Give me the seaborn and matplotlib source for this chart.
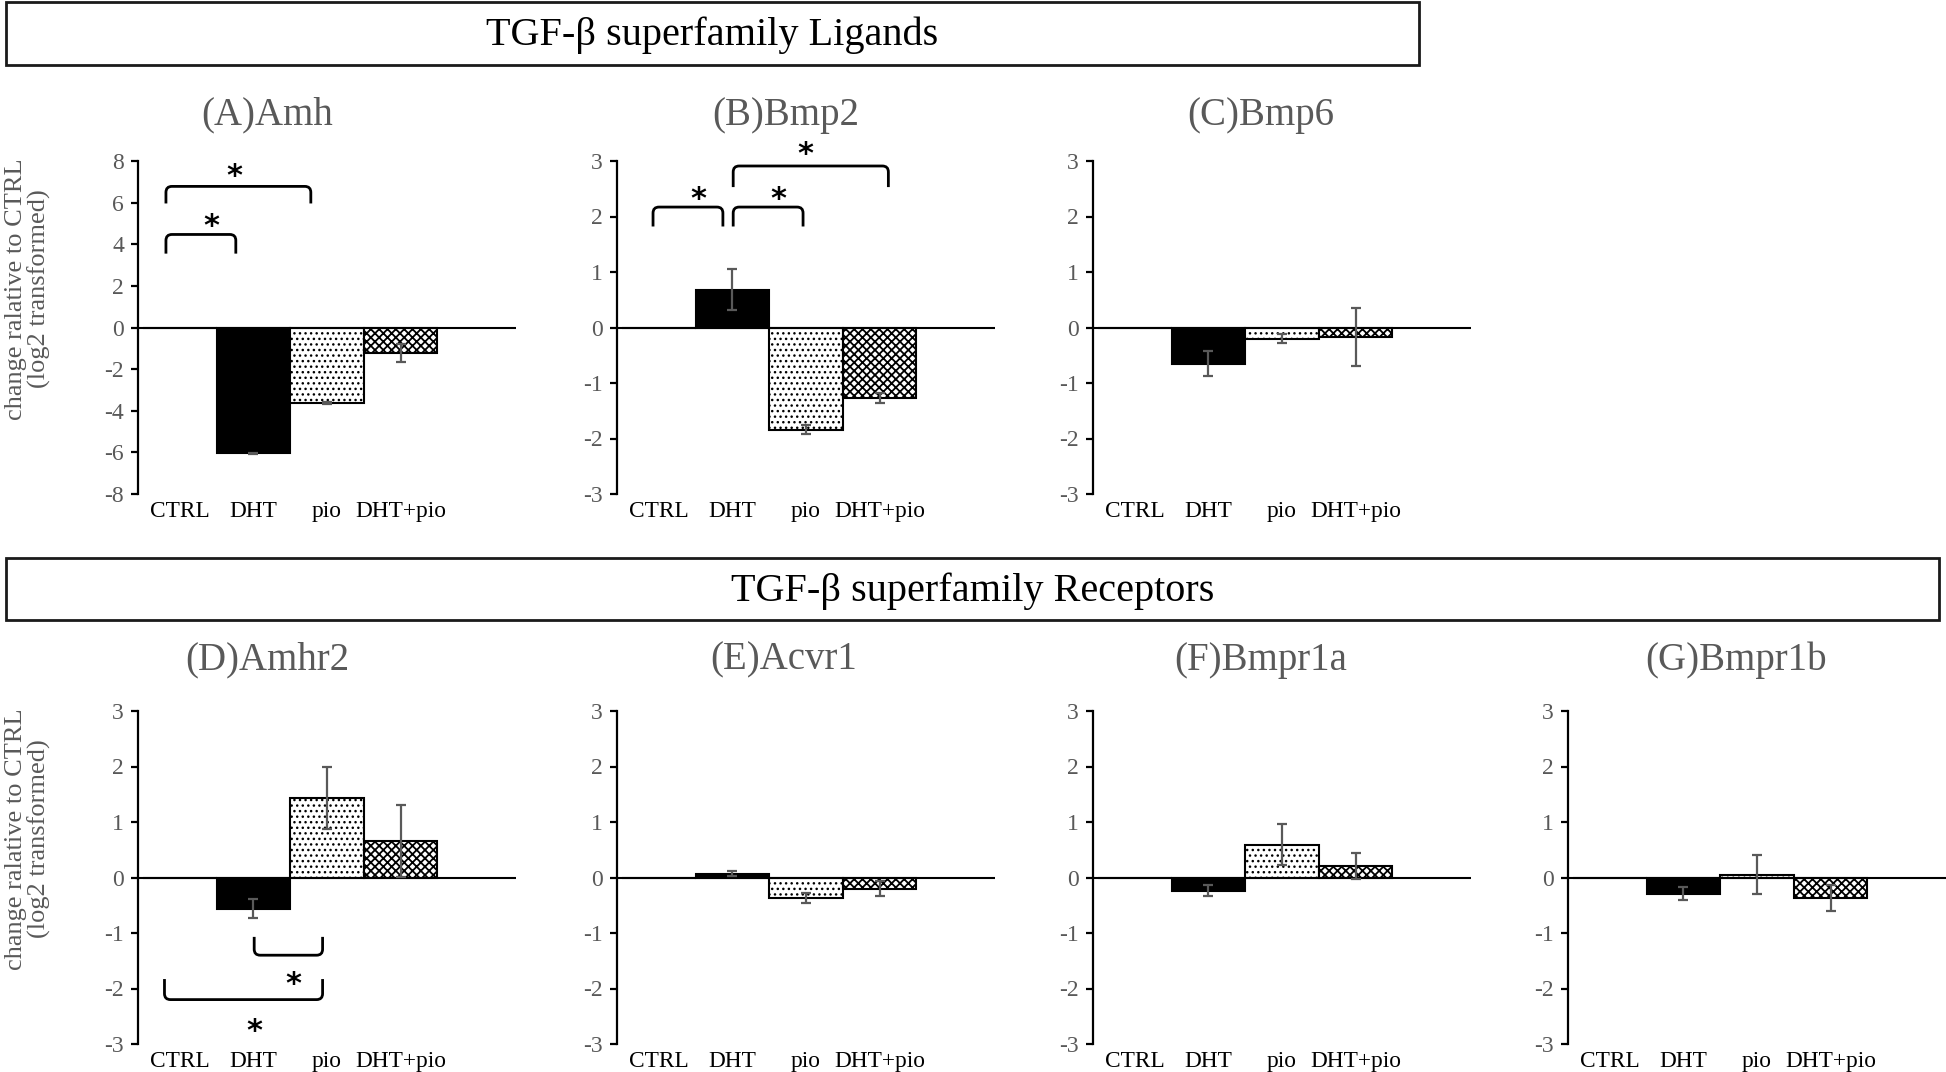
import numpy as np
import pandas as pd
import matplotlib
matplotlib.use("Agg")
import matplotlib.pyplot as plt
from matplotlib.patches import Rectangle, PathPatch
from matplotlib.path import Path
from matplotlib.ticker import FormatStrFormatter
import seaborn as sns

sns.set_style("white")
plt.rcParams['font.family'] = ['Liberation Serif', 'DejaVu Serif']
plt.rcParams['axes.unicode_minus'] = False
plt.rcParams['hatch.linewidth'] = 1.0

# ---------------- data ----------------
groups = ["CTRL", "DHT", "pio", "DHT+pio"]

amh_mean = [0, -6.05, -3.64, -1.22]
amh_err = [0, 0.04, 0.04, 0.43]
bmp2_mean = [0, 0.68, -1.84, -1.27]
bmp2_err = [0, 0.37, 0.08, 0.09]
bmp6_mean = [0, -0.65, -0.20, -0.17]
bmp6_err = [0, 0.22, 0.08, 0.52]
amhr2_mean = [0, -0.56, 1.44, 0.66]
amhr2_err = [0, 0.17, 0.56, 0.65]
acvr1_mean = [0, 0.07, -0.37, -0.20]
acvr1_err = [0, 0.05, 0.09, 0.13]
bmpr1a_mean = [0, -0.24, 0.59, 0.21]
bmpr1a_err = [0, 0.10, 0.37, 0.23]
bmpr1b_mean = [0, -0.29, 0.05, -0.37]
bmpr1b_err = [0, 0.11, 0.35, 0.23]

panel_titles = ["(A)Amh", "(B)Bmp2", "(C)Bmp6", "(D)Amhr2", "(E)Acvr1", "(F)Bmpr1a", "(G)Bmpr1b"]
banner_top = "TGF-\u03b2 superfamily Ligands"
banner_bottom = "TGF-\u03b2 superfamily Receptors"
ylabel_text = "change ralative to CTRL\n(log2 transformed)"

# significance brackets: (x_start, x_end, y_bar, y_leg_end, star_x, star_y)
sig_amh = [(-0.19, 1.78, 6.78, 5.96, 0.74, 7.45),
           (-0.19, 0.76, 4.47, 3.55, 0.43, 5.05)]
sig_bmp2 = [(-0.08, 0.87, 2.17, 1.82, 0.54, 2.38),
            (1.01, 1.96, 2.17, 1.82, 1.63, 2.38),
            (1.01, 3.12, 2.91, 2.53, 1.99, 3.19)]
sig_amhr2 = [(1.01, 1.94, -1.40, -1.07, 1.54, -1.86),
             (-0.21, 1.94, -2.20, -1.83, 1.01, -2.70)]

# ---------------- styling ----------------
GRAY = "#595959"
fills = {"CTRL": "white", "DHT": "black", "pio": "white", "DHT+pio": "white"}
hatches = ["", "", "...", "xxxx"]
hatch_lw = [1.0, 1.0, 1.0, 1.3]

W, H = 1946, 1072
fig = plt.figure(figsize=(W / 100, H / 100), dpi=100)

ax_w = 378 / W
ax_h = 333 / H
lefts = [138 / W, 617 / W, 1093 / W, 1568 / W]
bottom_top_row = 1 - 494 / H
bottom_bot_row = 1 - 1044 / H

panels = [
    (panel_titles[0], amh_mean, amh_err, (-8, 8), 2, lefts[0], bottom_top_row, True, 0.341, 1.138, sig_amh),
    (panel_titles[1], bmp2_mean, bmp2_err, (-3, 3), 1, lefts[1], bottom_top_row, False, 0.447, 1.138, sig_bmp2),
    (panel_titles[2], bmp6_mean, bmp6_err, (-3, 3), 1, lefts[2], bottom_top_row, False, 0.444, 1.138, []),
    (panel_titles[3], amhr2_mean, amhr2_err, (-3, 3), 1, lefts[0], bottom_bot_row, True, 0.341, 1.153, sig_amhr2),
    (panel_titles[4], acvr1_mean, acvr1_err, (-3, 3), 1, lefts[1], bottom_bot_row, False, 0.442, 1.153, []),
    (panel_titles[5], bmpr1a_mean, bmpr1a_err, (-3, 3), 1, lefts[2], bottom_bot_row, False, 0.444, 1.153, []),
    (panel_titles[6], bmpr1b_mean, bmpr1b_err, (-3, 3), 1, lefts[3], bottom_bot_row, False, 0.445, 1.153, []),
]


def bracket(ax, x0, x1, yb, yl, r_px=6):
    # pixel-per-unit of the data transform, to make round corners of r_px pixels
    p0 = ax.transData.transform((0, 0))
    p1 = ax.transData.transform((1, 1))
    rx = r_px / (p1[0] - p0[0])
    ry = r_px / abs(p1[1] - p0[1])
    s = np.sign(yb - yl)
    verts = [(x0, yl), (x0, yb - s * ry), (x0, yb), (x0 + rx, yb),
             (x1 - rx, yb), (x1, yb), (x1, yb - s * ry), (x1, yl)]
    codes = [Path.MOVETO, Path.LINETO, Path.CURVE3, Path.CURVE3,
             Path.LINETO, Path.CURVE3, Path.CURVE3, Path.LINETO]
    ax.add_patch(PathPatch(Path(verts, codes), fill=False, edgecolor="black",
                           lw=2.0, clip_on=False, zorder=6))


for title, mean, err, ylim, step, left, bottom, show_ylabel, tx, ty, sigs in panels:
    ax = fig.add_axes([left, bottom, ax_w, ax_h])
    df = pd.DataFrame({"group": groups, "value": mean})
    sns.barplot(data=df, x="group", y="value", hue="group", order=groups, hue_order=groups,
                palette=fills, width=1.0, edgecolor="black", linewidth=1.5,
                errorbar=None, legend=False, ax=ax)
    for patch, h, hl in zip(ax.patches, hatches, hatch_lw):
        patch.set_hatch(h)
        if hasattr(patch, "set_hatch_linewidth"):
            patch.set_hatch_linewidth(hl)

    xs = np.arange(len(groups))
    m = np.array(mean, dtype=float)
    e = np.array(err, dtype=float)
    keep = e > 0
    ax.errorbar(xs[keep], m[keep], yerr=e[keep], fmt="none", ecolor=GRAY,
                elinewidth=1.6, capsize=3.4, capthick=1.6, zorder=5)

    ax.set_xlim(-0.57, 4.57)
    ax.set_ylim(*ylim)
    ax.set_yticks(np.arange(ylim[0], ylim[1] + 1, step))
    ax.yaxis.set_major_formatter(FormatStrFormatter("%d"))
    ax.axhline(0, color="black", lw=1.5, zorder=4)

    for s in ["top", "right", "bottom"]:
        ax.spines[s].set_visible(False)
    ax.spines["left"].set_color("black")
    ax.spines["left"].set_linewidth(1.6)
    ax.tick_params(axis="y", direction="out", length=5, width=1.6, color="black",
                   labelcolor=GRAY, labelsize=17, pad=5, left=True)
    ax.tick_params(axis="x", length=0, labelsize=16.8, labelcolor="black", pad=5)
    ax.set_xlabel("")
    ax.set_ylabel("")
    ax.set_facecolor("none")

    if show_ylabel:
        ax.set_ylabel(ylabel_text, color=GRAY, fontsize=19, linespacing=1.0)
        ax.yaxis.label.set_va("center")
        ax.yaxis.set_label_coords(-0.291, 0.616)

    ax.text(tx, ty, title, transform=ax.transAxes, ha="center", va="center",
            fontsize=28, color=GRAY)

    for x0, x1, yb, yl, sx, sy in sigs:
        bracket(ax, x0, x1, yb, yl)
        ax.annotate("*", xy=(sx, sy), xytext=(0, -9.0), textcoords="offset points",
                    ha="center", va="baseline", fontsize=22, fontweight="bold",
                    family="DejaVu Sans", color="black", annotation_clip=False)

# banners
fig.add_artist(Rectangle((6 / W, 1 - 65 / H), (1419 - 6) / W, 63 / H, transform=fig.transFigure,
                         fill=False, edgecolor="#1a1a1a", lw=2.0))
fig.text((6 + 1419) / 2 / W, 1 - 35 / H, banner_top, ha="center", va="center",
         fontsize=29, color="black")
fig.add_artist(Rectangle((6 / W, 1 - 620 / H), (1939 - 6) / W, 62 / H, transform=fig.transFigure,
                         fill=False, edgecolor="#1a1a1a", lw=2.0))
fig.text((6 + 1939) / 2 / W, 1 - 591 / H, banner_bottom, ha="center", va="center",
         fontsize=29, color="black")

fig.savefig("out.png", dpi=100, facecolor="white")
